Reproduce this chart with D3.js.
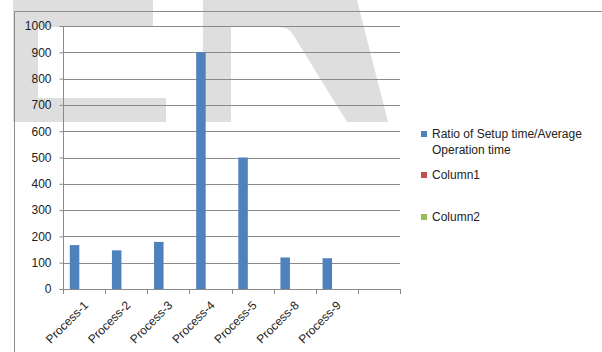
<!DOCTYPE html>
<html><head><meta charset="utf-8">
<script src="https://cdn.jsdelivr.net/npm/d3@7"></script>
<style>
html,body{margin:0;padding:0;background:#fff;}
svg{display:block;font-family:"Liberation Sans",Arial,sans-serif;}
</style></head>
<body>
<svg id="c" width="602" height="352"></svg>
<script>
const categories = ["Process-1","Process-2","Process-3","Process-4","Process-5","Process-8","Process-9",""];
const ratioValues = [167,147,179,900,500,120,117,null];
const seriesNames = ["Ratio of Setup time/Average Operation time","Column1","Column2"];
const seriesColors = ["#4f81bd","#c0504d","#9bbb59"];
const yTicks = [0,100,200,300,400,500,600,700,800,900,1000];

(function(){
const svg = d3.select("#c");

// watermark (light grey "ER" shape behind chart)
const wm = svg.append("g").attr("fill","#dedede");
wm.append("path").attr("d","M13,0H153V27H38V98H166V122H13Z");
wm.append("path").attr("d","M203,0H357L388,122H347L292,33Q288,27 278,27H231V122H203Z");

// outer chart border
svg.append("path").attr("d","M14.5,352V11.5H602").attr("fill","none").attr("stroke","#8c8c8c").attr("stroke-width",1);

const pL=63, pR=400, pT=26, pB=289;
const x = d3.scaleBand().domain(categories).range([pL,pR]).padding(0);
const bw = x.bandwidth();
const gap = bw*0.1615;
const xs = d3.scaleBand().domain(seriesNames).range([gap,bw-gap]).padding(0);
const y = d3.scaleLinear().domain([0,1000]).range([pB,pT]);

// gridlines
svg.append("g").selectAll("line").data(yTicks.filter(d=>d>0)).join("line")
  .attr("x1",pL).attr("x2",pR)
  .attr("y1",d=>Math.round(y(d))+0.5).attr("y2",d=>Math.round(y(d))+0.5)
  .attr("stroke","#8a8a8a").attr("stroke-width",1);

// bars
svg.append("g").selectAll("rect").data(categories.map((c,i)=>({c,v:ratioValues[i]})).filter(d=>d.v!=null)).join("rect")
  .attr("x",d=>x(d.c)+xs(seriesNames[0]))
  .attr("width",xs.bandwidth())
  .attr("y",d=>y(d.v))
  .attr("height",d=>y(0)-y(d.v))
  .attr("fill",seriesColors[0]);

// y axis
const yAxis = svg.append("g").attr("transform",`translate(${pL+0.5},0)`)
  .call(d3.axisLeft(y).tickValues(yTicks).tickSize(4).tickPadding(8).tickFormat(d3.format("d")));
yAxis.select(".domain").attr("stroke","#8a8a8a").attr("d",`M-4,${pT+0.5}H0V${pB+0.5}H-4`);
yAxis.selectAll(".tick line").attr("stroke","#8a8a8a");
yAxis.selectAll(".tick text").attr("font-size","12px").attr("fill","#222").attr("font-family","Liberation Sans, Arial, sans-serif");

// x axis
const xg = svg.append("g");
xg.append("line").attr("x1",pL).attr("x2",pR).attr("y1",pB+0.5).attr("y2",pB+0.5).attr("stroke","#8a8a8a");
const bounds = categories.map(c=>x(c)).concat([pR]);
xg.selectAll("line.t").data(bounds).join("line").attr("class","t")
  .attr("x1",d=>Math.round(d)+0.5).attr("x2",d=>Math.round(d)+0.5)
  .attr("y1",pB).attr("y2",pB+5).attr("stroke","#8a8a8a");
xg.selectAll("text").data(categories.filter(c=>c!=="")).join("text")
  .attr("transform",d=>`translate(${x(d)+bw/2+2},${pB+14}) rotate(-45)`)
  .attr("text-anchor","end").attr("dy","0.35em")
  .attr("font-size","12px").attr("fill","#222")
  .text(d=>d);

// legend
const lg = svg.append("g");
const legendRows = [{lines:["Ratio of Setup time/Average","Operation time"],y:137},{lines:["Column1"],y:178},{lines:["Column2"],y:220}];
legendRows.forEach((r,i)=>{
  lg.append("rect").attr("x",421).attr("y",r.y-6).attr("width",6).attr("height",6).attr("fill",seriesColors[i]);
  r.lines.forEach((t,j)=>{
    lg.append("text").attr("x",432).attr("y",r.y+1+j*16).attr("font-size","12px").attr("fill","#222").text(t);
  });
});
})();
</script>
</body></html>
